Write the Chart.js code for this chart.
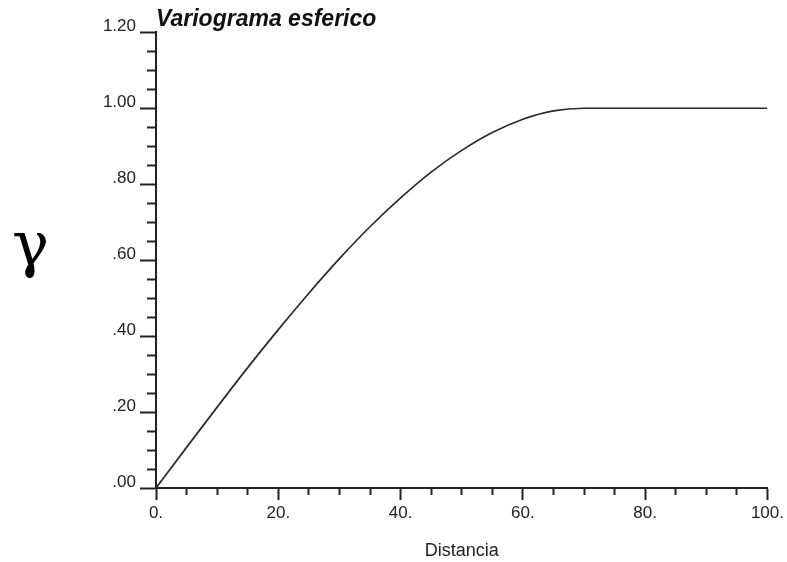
<!DOCTYPE html>
<html>
<head>
<meta charset="utf-8">
<script src="https://cdn.jsdelivr.net/npm/chart.js@4/dist/chart.umd.min.js"></script>
<style>
  html, body { margin: 0; padding: 0; background: #fff; }
  #wrap { width: 787px; height: 562px; }
</style>
</head>
<body>
<div id="wrap"><canvas id="c" width="787" height="562"></canvas></div>
<script>
// ---- data ----
const chartTitle = 'Variograma esferico';
const xAxisTitle = 'Distancia';
const yAxisSymbol = 'γ';
const distances = [0, 5, 10, 15, 20, 25, 30, 35, 40, 45, 50, 55, 60, 65, 70, 75, 80, 85, 90, 95, 100];
const gammaValues = [0, 0.107, 0.213, 0.317, 0.417, 0.513, 0.604, 0.688, 0.764, 0.832, 0.889, 0.936, 0.971, 0.993, 1.0, 1.0, 1.0, 1.0, 1.0, 1.0, 1.0];
const xTickLabels = ['0.', '20.', '40.', '60.', '80.', '100.'];
const yTickLabels = ['.00', '.20', '.40', '.60', '.80', '1.00', '1.20'];

const FONT = '"Liberation Sans", Arial, Helvetica, sans-serif';
const INK = '#222';

const gammaPlugin = {
  id: 'gammaLabel',
  afterDraw(chart) {
    const ctx = chart.ctx;
    ctx.save();
    ctx.fillStyle = '#000';
    ctx.font = '62px "DejaVu Serif", serif';
    ctx.textAlign = 'left';
    ctx.textBaseline = 'alphabetic';
    ctx.fillText(yAxisSymbol, 12, 265);
    ctx.restore();
  }
};

new Chart(document.getElementById('c'), {
  type: 'line',
  data: {
    datasets: [{
      data: distances.map((d, i) => ({ x: d, y: gammaValues[i] })),
      borderColor: '#2a2a2a',
      borderWidth: 1.7,
      pointRadius: 0,
      cubicInterpolationMode: 'monotone',
      fill: false
    }]
  },
  options: {
    responsive: false,
    animation: false,
    events: [],
    layout: { padding: { left: 0, right: 17, top: 0, bottom: 0 } },
    plugins: {
      legend: { display: false },
      tooltip: { enabled: false },
      title: {
        display: true,
        text: chartTitle,
        align: 'start',
        fullSize: false,
        color: '#111',
        font: { family: FONT, size: 23, weight: 'bold', style: 'italic', lineHeight: 1.1 },
        padding: { top: 7, bottom: 0 }
      }
    },
    scales: {
      x: {
        type: 'linear',
        min: 0, max: 100,
        afterFit(scale) { scale.height = 74; },
        border: { display: true, color: INK, width: 2 },
        grid: {
          drawOnChartArea: false,
          drawTicks: true,
          tickLength: 12,
          tickWidth: 2,
          tickColor: INK,
          tickBorderDash: (ctx) => (ctx.index % 4 === 0 ? [] : [6, 100])
        },
        ticks: {
          stepSize: 5,
          maxTicksLimit: 100,
          autoSkip: false,
          maxRotation: 0,
          padding: 3,
          color: INK,
          font: { family: FONT, size: 17 },
          callback: (v, i) => (i % 4 === 0 ? xTickLabels[i / 4] : '')
        },
        title: {
          display: true,
          text: xAxisTitle,
          color: INK,
          font: { family: FONT, size: 18 },
          padding: { top: 0, bottom: 0 }
        }
      },
      y: {
        type: 'linear',
        min: 0, max: 1.2,
        afterFit(scale) { scale.width = 156; },
        border: { display: true, color: INK, width: 2 },
        grid: {
          drawOnChartArea: false,
          drawTicks: true,
          tickLength: 16,
          tickWidth: 2,
          tickColor: INK,
          tickBorderDash: (ctx) => (ctx.index % 4 === 0 ? [] : [0, 7, 20, 100])
        },
        ticks: {
          stepSize: 0.05,
          maxTicksLimit: 100,
          autoSkip: false,
          padding: 4,
          labelOffset: -6,
          color: INK,
          font: { family: FONT, size: 17 },
          callback: (v, i) => (i % 4 === 0 ? yTickLabels[i / 4] : '')
        }
      }
    }
  },
  plugins: [gammaPlugin]
});
</script>
</body>
</html>
